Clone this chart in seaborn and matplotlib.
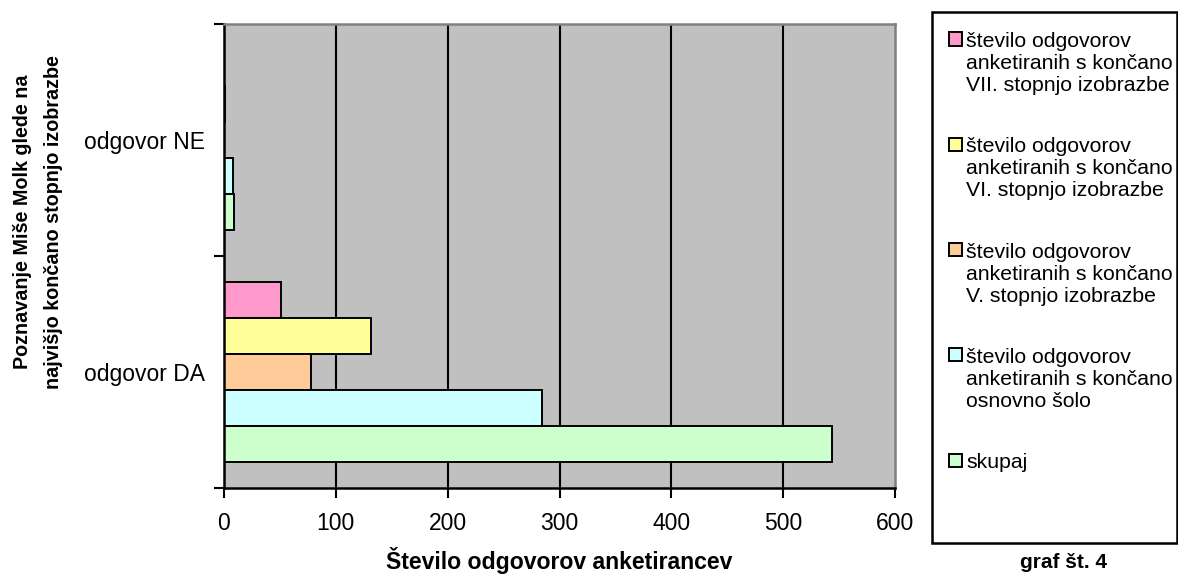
"""
Horizontal grouped bar chart: Poznavanje Miše Molk glede na izobrazbo (graf št. 4).
"""
import matplotlib
matplotlib.use("Agg")
import matplotlib.pyplot as plt
from matplotlib.patches import Rectangle
import seaborn as sns
import pandas as pd


# Data
categories = ["odgovor NE", "odgovor DA"]
series = [
    "število odgovorov\nanketiranih s končano\nVII. stopnjo izobrazbe",
    "število odgovorov\nanketiranih s končano\nVI. stopnjo izobrazbe",
    "število odgovorov\nanketiranih s končano\nV. stopnjo izobrazbe",
    "število odgovorov\nanketiranih s končano\nosnovno šolo",
    "skupaj",
]
vals_vii = [0, 51]
vals_vi = [1, 131]
vals_v = [0, 78]
vals_osnovna = [8, 284]
vals_skupaj = [9, 544]
colors = ["#FF99CC", "#FFFF99", "#FFCC99", "#CCFFFF", "#CCFFCC"]

x_ticks = [0, 100, 200, 300, 400, 500, 600]

# Style
sns.set_style("white")
plt.rcParams['font.family'] = ['Liberation Sans', 'DejaVu Sans']
plt.rcParams['font.size'] = 15
plt.rcParams['text.color'] = 'black'
plt.rcParams['xtick.color'] = 'black'
plt.rcParams['ytick.color'] = 'black'
plt.rcParams['axes.labelcolor'] = 'black'

W, H = 1178, 574


def px(x, y):
    """pixel (from top-left) -> figure fraction"""
    return x / W, 1 - y / H


rows = []
for name, vals in zip(series, [vals_vii, vals_vi, vals_v, vals_osnovna, vals_skupaj]):
    for cat, v in zip(categories, vals):
        rows.append({"kategorija": cat, "serija": name, "vrednost": v})
df = pd.DataFrame(rows)
palette = dict(zip(series, colors))

fig = plt.figure(figsize=(W / 100, H / 100), dpi=100)
l, t = px(224, 24)
r, b = px(895, 488)
ax = fig.add_axes([l, b, r - l, t - b])
ax.set_facecolor("#C0C0C0")

sns.barplot(data=df, y="kategorija", x="vrednost", hue="serija",
            order=categories, hue_order=series, palette=palette,
            orient="h", width=0.78, edgecolor="black", linewidth=1.4,
            saturation=1, legend=False, ax=ax)

ax.set_xlim(0, 600)
ax.set_ylim(1.5, -0.5)
ax.set_xticks(x_ticks)
ax.set_xticklabels([str(v) for v in x_ticks])
for v in x_ticks[1:-1]:
    ax.axvline(v, color="black", lw=1.5, zorder=0.5)

# category ticks sit at group boundaries
ax.set_yticks([0, 1])
ax.set_yticklabels(categories)
ax.set_yticks([-0.5, 0.5, 1.5], minor=True)
ax.tick_params(axis="y", which="major", length=0, pad=13.5, labelsize=16.5)
ax.tick_params(axis="y", which="minor", length=7, width=1.5, color="black",
               direction="out", left=True)
ax.tick_params(axis="x", length=7, width=1.5, color="black", direction="out",
               bottom=True, pad=10, labelsize=16.5)

ax.set_ylabel("")
ax.set_xlabel("")
for side in ["left", "bottom"]:
    ax.spines[side].set_color("black")
    ax.spines[side].set_linewidth(1.8)
for side in ["top", "right"]:
    ax.spines[side].set_color("#808080")
    ax.spines[side].set_linewidth(1.8)

# Axis titles
fig.text(*px(559, 561), "Število odgovorov anketirancev", ha="center", va="center",
         fontsize=16.6, fontweight="bold")
fig.text(*px(38, 222), "Poznavanje Miše Molk glede na\nnajvišjo končano stopnjo izobrazbe",
         ha="center", va="center", rotation=90, fontsize=14.2, fontweight="bold",
         multialignment="center", linespacing=1.75)

# Legend box drawn by hand (squares aligned to first text line)
x0, y0 = px(932, 12)
x1, y1 = px(1177, 543)
fig.add_artist(Rectangle((x0, y1), x1 - x0, y0 - y1, transform=fig.transFigure,
                         facecolor="white", edgecolor="black", lw=1.8))
for i, name in enumerate(series):
    base = 49 + i * 105.3
    sx, sy = px(948.5, base - 3.5)
    fig.add_artist(Rectangle((sx, sy), 13 / W, 13 / H, transform=fig.transFigure,
                             facecolor=palette[name], edgecolor="black", lw=1.4))
    fig.text(*px(966, base - 17), name, ha="left", va="top", fontsize=15.3,
             linespacing=1.2)

fig.text(*px(1063, 563), "graf št. 4", ha="center", va="center",
         fontsize=15, fontweight="bold")

fig.savefig("out.png", dpi=100)
